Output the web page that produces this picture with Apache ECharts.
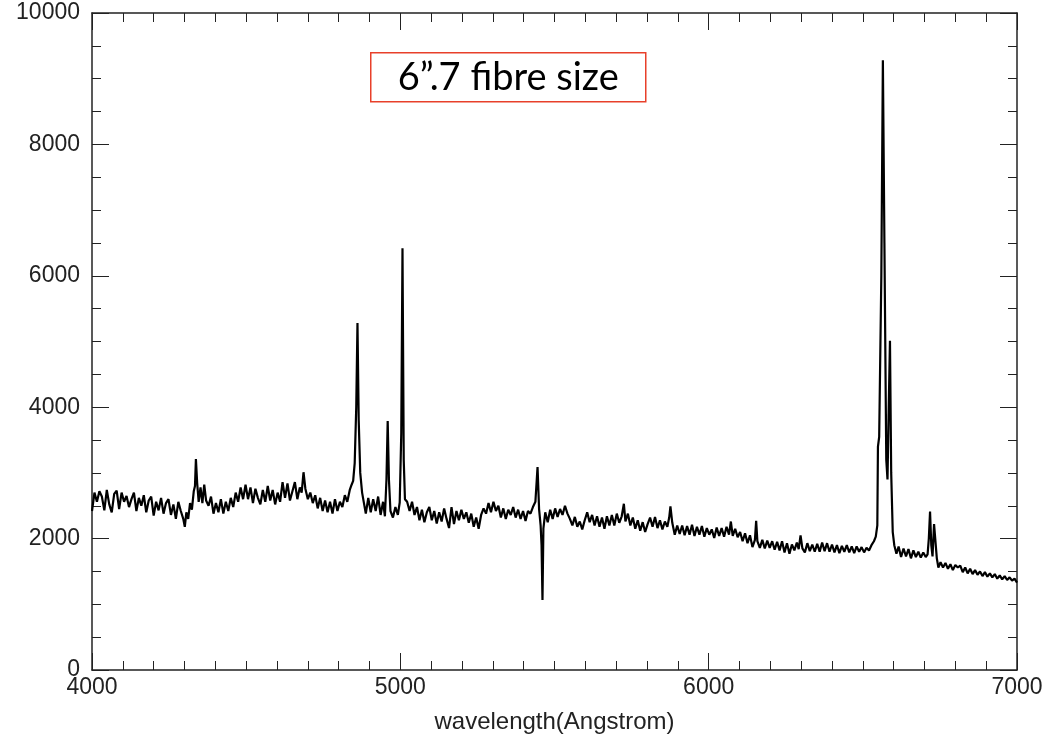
<!DOCTYPE html>
<html>
<head>
<meta charset="utf-8">
<script src="https://cdn.jsdelivr.net/npm/echarts@6/dist/echarts.min.js"></script>
<style>
html,body{margin:0;padding:0;background:#fff;}
#chart{width:1051px;height:738px;}
</style>
</head>
<body>
<div id="chart"></div>
<script>
// Spectrum segments: [wavelength (Angstrom), flux]
const seg4000 = [[4000,2420],[4008,2700],[4016,2560],[4024,2720],[4032,2640],[4040,2430],[4048,2740],[4056,2520],[4064,2400],[4072,2680],[4080,2730],[4088,2450],[4096,2700],[4104,2560],[4112,2650],[4120,2480],[4128,2600],[4136,2700],[4144,2420],[4152,2620],[4160,2500],[4168,2660],[4176,2400],[4184,2580],[4192,2640],[4200,2350],[4208,2560],[4216,2430],[4224,2620],[4232,2380],[4240,2540],[4248,2600],[4256,2360],[4264,2520],[4272,2300],[4280,2560],[4288,2420],[4296,2300],[4301,2180],[4306,2400],[4312,2300],[4318,2540],[4324,2440],[4330,2720],[4334,2800],[4337,3210],[4341,2850],[4346,2560],[4352,2780],[4358,2540],[4364,2820],[4370,2580],[4378,2500],[4386,2640],[4394,2380],[4402,2540],[4410,2400],[4418,2600],[4426,2380],[4434,2560],[4442,2420],[4450,2620],[4458,2480],[4466,2700],[4474,2560],[4482,2780],[4490,2600],[4498,2820]];
const seg4500 = [[4506,2600],[4514,2780],[4522,2540],[4530,2760],[4538,2620],[4546,2520],[4554,2740],[4562,2560],[4570,2800],[4578,2580],[4586,2740],[4594,2520],[4602,2700],[4610,2560],[4618,2860],[4626,2620],[4634,2840],[4642,2580],[4650,2720],[4658,2860],[4666,2600],[4674,2780],[4680,2700],[4686,3010],[4692,2760],[4700,2600],[4708,2700],[4716,2540],[4724,2660],[4732,2460],[4740,2620],[4748,2420],[4756,2580],[4764,2400],[4772,2560],[4780,2380],[4788,2600],[4796,2420],[4804,2560],[4812,2480],[4820,2660],[4828,2560],[4836,2740],[4842,2820],[4847,2880],[4852,3150],[4857,4000],[4861,5280],[4865,3800],[4870,3000],[4876,2700],[4882,2540],[4888,2380],[4896,2620],[4904,2400],[4912,2600],[4920,2420],[4928,2640],[4936,2360],[4944,2560],[4950,2340],[4955,2900],[4959,3790],[4963,2900],[4968,2420],[4976,2320],[4984,2480],[4992,2360],[4998,2550],[5003,3600],[5007,6420],[5011,3200],[5015,2600]];
const seg5000 = [[5022,2560],[5030,2420],[5038,2560],[5046,2360],[5054,2480],[5062,2280],[5070,2440],[5078,2250],[5086,2400],[5094,2480],[5102,2280],[5110,2420],[5118,2230],[5126,2400],[5134,2260],[5142,2460],[5150,2300],[5158,2160],[5166,2480],[5174,2220],[5182,2420],[5190,2280],[5198,2440],[5206,2300],[5214,2400],[5222,2240],[5230,2380],[5238,2180],[5246,2320],[5254,2150],[5262,2360],[5270,2460],[5278,2380],[5286,2540],[5294,2400],[5302,2560],[5310,2420],[5318,2500],[5326,2320],[5334,2460],[5342,2300],[5350,2440],[5358,2360],[5366,2480],[5374,2320],[5382,2440],[5390,2300],[5398,2420],[5406,2270],[5414,2420],[5422,2380],[5430,2480],[5438,2560],[5445,3090],[5450,2450],[5455,2200],[5458,1900],[5461,1065],[5464,2150],[5470,2400],[5478,2250],[5486,2440],[5494,2300],[5502,2460],[5510,2330],[5518,2450]];
const seg5500 = [[5526,2360],[5534,2500],[5542,2380],[5550,2300],[5558,2200],[5566,2330],[5574,2180],[5582,2260],[5590,2140],[5598,2280],[5606,2400],[5614,2250],[5622,2360],[5630,2200],[5638,2340],[5646,2180],[5654,2320],[5662,2150],[5670,2340],[5678,2200],[5686,2360],[5694,2200],[5702,2380],[5710,2240],[5718,2340],[5725,2530],[5730,2260],[5738,2380],[5746,2200],[5754,2320],[5762,2150],[5770,2280],[5778,2120],[5786,2250],[5794,2100],[5802,2220],[5810,2320],[5818,2180],[5826,2330],[5834,2160],[5842,2280],[5850,2140],[5858,2260],[5866,2180],[5872,2320],[5876,2490],[5882,2240],[5890,2060],[5898,2200],[5906,2070],[5914,2200],[5922,2050],[5930,2190],[5938,2060],[5946,2210],[5954,2040],[5962,2180],[5970,2060],[5978,2190],[5986,2030],[5994,2160],[6002,2060],[6010,2140],[6018,2010]];
const seg6000 = [[6026,2170],[6034,2040],[6042,2160],[6050,2030],[6058,2180],[6066,2060],[6072,2260],[6078,2040],[6086,2150],[6094,2020],[6102,2100],[6110,1960],[6118,2080],[6126,1930],[6134,2050],[6142,1870],[6150,1980],[6154,2270],[6158,1960],[6166,1860],[6174,1980],[6182,1850],[6190,1970],[6198,1860],[6206,1960],[6214,1830],[6222,1950],[6230,1820],[6238,1960],[6246,1790],[6254,1930],[6262,1770],[6270,1910],[6278,1820],[6286,1940],[6292,1840],[6298,2050],[6304,1850],[6312,1790],[6320,1930],[6328,1810],[6336,1910],[6344,1800],[6352,1920],[6360,1800],[6368,1940],[6376,1810],[6384,1930],[6392,1800],[6400,1910],[6408,1790],[6416,1900],[6424,1780],[6432,1890],[6440,1800],[6448,1900],[6456,1790],[6464,1880],[6472,1780],[6480,1880],[6488,1800],[6496,1870],[6504,1790],[6512,1860],[6520,1820]];
const seg6500 = [[6528,1900],[6536,1960],[6542,2030],[6547,2200],[6549,3400],[6553,3550],[6560,6000],[6565,9280],[6570,6500],[6576,3200],[6580,2900],[6584,4000],[6588,5010],[6592,3000],[6597,2100],[6602,1900],[6609,1770],[6616,1880],[6624,1720],[6632,1850],[6640,1730],[6648,1840],[6656,1700],[6664,1820],[6672,1720],[6680,1800],[6688,1710],[6696,1790],[6704,1720],[6710,1760],[6714,2000],[6718,2410],[6722,1900],[6726,1730],[6731,2220],[6735,2200],[6740,1700],[6745,1560],[6752,1640],[6760,1560],[6768,1630],[6776,1540],[6784,1610],[6792,1520],[6800,1600],[6808,1560],[6816,1590],[6824,1490],[6832,1560],[6840,1470],[6848,1540],[6856,1460],[6864,1520],[6872,1450],[6880,1500],[6888,1430],[6896,1490],[6904,1420],[6912,1470],[6920,1410],[6928,1460],[6936,1390],[6944,1440],[6952,1380],[6960,1430],[6968,1370],[6976,1410],[6984,1360],[6992,1390],[7000,1330]];

const xTicks = [4000, 5000, 6000, 7000];
const yTicks = [0, 2000, 4000, 6000, 8000, 10000];
const xTitle = 'wavelength(Angstrom)';
const boxLabel = '6\u201D.7 fibre size';

const spectrum = [].concat(seg4000, seg4500, seg5000, seg5500, seg6000, seg6500);

const chart = echarts.init(document.getElementById('chart'), null, {renderer: 'canvas'});
const axisCol = '#222';
const labelFont = {fontFamily: 'Liberation Sans', fontSize: 23, color: '#222'};
const plain = v => String(v);

function xAx(pos, showLabel) {
  return {
    type: 'value', position: pos,
    min: xTicks[0], max: xTicks[xTicks.length - 1],
    interval: xTicks[1] - xTicks[0],
    axisLine: {show: true, onZero: false, lineStyle: {color: axisCol, width: 1.5}},
    axisTick: {show: true, inside: true, length: 17, lineStyle: {color: axisCol, width: 1}},
    minorTick: {show: true, splitNumber: 10, length: 9, lineStyle: {color: axisCol, width: 1}},
    splitLine: {show: false},
    axisLabel: Object.assign({show: showLabel, margin: 6, formatter: plain}, labelFont),
    name: showLabel ? xTitle : '',
    nameLocation: 'middle', nameGap: 40,
    nameTextStyle: {fontFamily: 'Liberation Sans', fontSize: 24, color: '#222'}
  };
}
function yAx(pos, showLabel) {
  return {
    type: 'value', position: pos,
    min: yTicks[0], max: yTicks[yTicks.length - 1],
    interval: yTicks[1] - yTicks[0],
    axisLine: {show: true, onZero: false, lineStyle: {color: axisCol, width: 1.5}},
    axisTick: {show: true, inside: true, length: 17, lineStyle: {color: axisCol, width: 1}},
    minorTick: {show: true, splitNumber: 4, length: 9, lineStyle: {color: axisCol, width: 1}},
    splitLine: {show: false},
    axisLabel: Object.assign({show: showLabel, margin: 12, formatter: plain}, labelFont)
  };
}

chart.setOption({
  animation: false,
  backgroundColor: '#fff',
  grid: {left: 92, right: 34, top: 13, bottom: 68, containLabel: false, outerBoundsMode: 'none'},
  xAxis: [xAx('bottom', true), xAx('top', false)],
  yAxis: [yAx('left', true), yAx('right', false)],
  series: [{
    type: 'line',
    xAxisIndex: 0, yAxisIndex: 0,
    data: spectrum,
    symbol: 'none',
    lineStyle: {color: '#000', width: 2.2},
    clip: true
  }],
  graphic: [{
    type: 'group', left: 370, top: 52,
    children: [
      {type: 'rect', shape: {x: 0, y: 0, width: 275, height: 49},
       style: {fill: '#fff', stroke: '#e8402a', lineWidth: 1.5}},
      {type: 'text', x: 137.5, y: 25,
       style: {text: boxLabel, fill: '#000', font: '38px Lato', align: 'center', verticalAlign: 'middle'}}
    ]
  }]
});
</script>
</body>
</html>
